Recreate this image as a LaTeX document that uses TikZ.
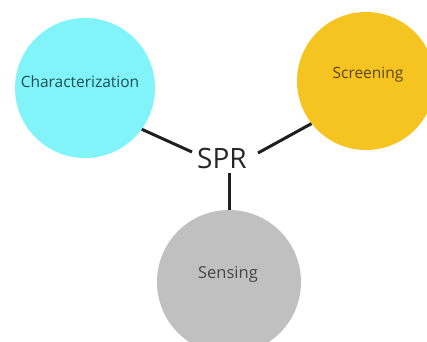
\documentclass[tikz,border=0pt]{standalone}
\usepackage{fontspec}
\setmainfont{Open Sans}
\definecolor{cyanfill}{RGB}{128,244,248}
\definecolor{orangefill}{RGB}{246,196,32}
\definecolor{grayfill}{RGB}{192,192,192}
\definecolor{cyantext}{RGB}{30,80,85}
\definecolor{orangetext}{RGB}{90,70,20}
\definecolor{graytext}{RGB}{70,70,70}
\begin{document}
\begin{tikzpicture}[x=1pt,y=-1pt,
  topic/.style={circle,draw=none,inner sep=0pt},
  label/.style={font=\fontsize{15.5}{18}\selectfont},
  link/.style={line width=3pt,black!88}]
\useasboundingbox (0,0) rectangle (427,341);
\clip (0,0) rectangle (427,341);
\node[topic,fill=cyanfill,minimum size=140pt] (char) at (85,88) {};
\node[topic,fill=orangefill,minimum size=138pt] (scr) at (366,81) {};
\node[topic,fill=grayfill,minimum size=144pt] (sens) at (229,282) {};
\node[label,text=cyantext] (chart) at (80,82) {Characterization};
\node[label,text=orangetext] (scrt) at (368,75) {Screening};
\node[label,text=graytext,font=\fontsize{16.5}{19}\selectfont] (senst) at (228,274) {Sensing};
\node[font=\fontsize{28}{31}\selectfont,text=black!85] (spr) at (222,158) {SPR};
\coordinate (a1) at (192,152);
\coordinate (a2) at (258,153);
\coordinate (a3) at (229,173);
\draw[link] (a1) -- (char.-36);
\draw[link] (a2) -- (scr.-142);
\draw[link] (a3) -- (sens.90);
\end{tikzpicture}
\end{document}
